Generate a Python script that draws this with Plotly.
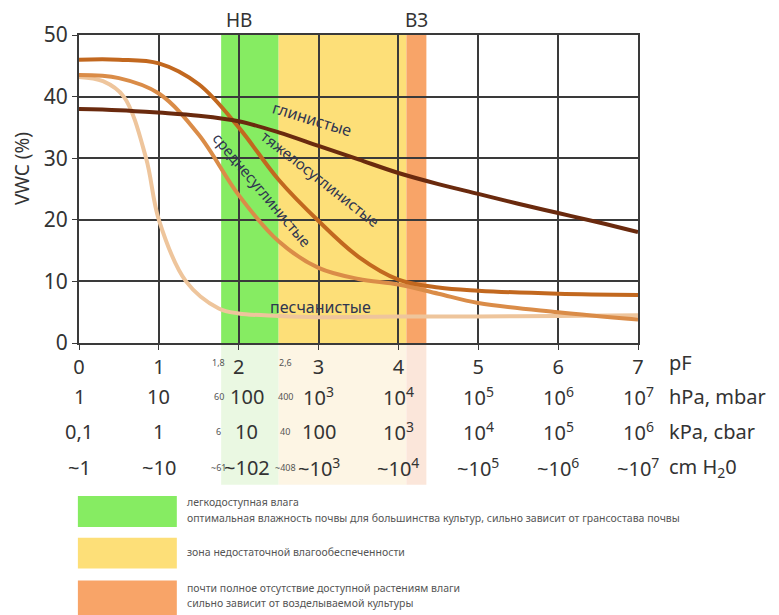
import plotly.graph_objects as go

# ---- data ----
clay_x = [0, 0.5, 1, 1.5, 2, 2.5, 3, 3.5, 4, 4.5, 5, 5.5, 6, 6.5, 7]
clay_y = [38, 37.8, 37.4, 36.9, 36, 34.2, 32, 29.8, 27.6, 25.8, 24.2, 22.6, 21.1, 19.6, 18]

heavy_x = [0, 0.5, 1, 1.5, 2, 2.5, 3, 3.5, 4, 4.5, 5, 6, 7]
heavy_y = [46, 46, 45.4, 42, 35, 26.5, 19.8, 14, 10.3, 9, 8.5, 8, 7.8]

medium_x = [0, 0.5, 1, 1.5, 2, 2.5, 3, 3.5, 4, 4.5, 5, 6, 7]
medium_y = [43.5, 43, 40.5, 33.8, 24, 16.5, 12.2, 10.4, 9.5, 8, 6.5, 5, 3.8]

sand_x = [0, 0.3, 0.56, 0.84, 1, 1.34, 1.75, 2, 2.5, 3, 4, 5, 6, 7]
sand_y = [43.2, 42.5, 40, 30, 20, 10, 5.6, 4.8, 4.4, 4.2, 4.3, 4.3, 4.4, 4.5]

pf_ticks = [0, 1, 2, 3, 4, 5, 6, 7]
hpa_labels = ["1", "10", "100", "10<sup>3</sup>", "10<sup>4</sup>", "10<sup>5</sup>", "10<sup>6</sup>", "10<sup>7</sup>"]
kpa_labels = ["0,1", "1", "10", "100", "10<sup>3</sup>", "10<sup>4</sup>", "10<sup>5</sup>", "10<sup>6</sup>"]
cm_labels = ["~1", "~10", "~102", "~10<sup>3</sup>", "~10<sup>4</sup>", "~10<sup>5</sup>", "~10<sup>6</sup>", "~10<sup>7</sup>"]
row_units = ["pF", "hPa, mbar", "kPa, cbar", "cm H<sub>2</sub>0"]
small_left = ["1,8", "60", "6", "~61"]
small_right = ["2,6", "400", "40", "~408"]

green_band = (1.78, 2.5)
yellow_band = (2.5, 4.1)
orange_band = (4.1, 4.35)

legend_texts = [
    ["легкодоступная влага",
     "оптимальная влажность почвы для большинства культур, сильно зависит от грансостава почвы"],
    ["зона недостаточной влагообеспеченности"],
    ["почти полное отсутствие доступной растениям влаги",
     "сильно зависит от возделываемой культуры"],
]

FONT = "Noto Sans"
TXT = "#333333"
GREEN, YELLOW, ORANGE = "#86EC62", "#FDDF78", "#F8A468"
GREEN_L, YELLOW_L, ORANGE_L = "#EAF8E2", "#FDF5E4", "#FBE6DA"

fig = go.Figure()

for xs, ys, col, w in [
    (sand_x, sand_y, "#EEC59C", 4),
    (medium_x, medium_y, "#DA8C48", 4),
    (heavy_x, heavy_y, "#C2681F", 4),
    (clay_x, clay_y, "#6A2A0E", 4),
]:
    fig.add_trace(go.Scatter(x=xs, y=ys, mode="lines",
                             line=dict(color=col, width=w, shape="spline", smoothing=1.0),
                             hoverinfo="skip", showlegend=False))

shapes = []
for (a, b), c, cl in [(green_band, GREEN, GREEN_L), (yellow_band, YELLOW, YELLOW_L), (orange_band, ORANGE, ORANGE_L)]:
    shapes.append(dict(type="rect", xref="x", yref="y", x0=a, x1=b, y0=0, y1=50,
                       fillcolor=c, line_width=0, layer="below"))
    shapes.append(dict(type="rect", xref="x", yref="paper", x0=a, x1=b, y0=-0.46, y1=-0.005,
                       fillcolor=cl, line_width=0, layer="below"))

# legend swatches
for (y0, y1), c in [((-0.497, -0.597), GREEN), ((-0.632, -0.732), YELLOW), ((-0.771, -0.90), ORANGE)]:
    shapes.append(dict(type="rect", xref="paper", yref="paper", x0=-0.002, x1=0.175, y0=y0, y1=y1,
                       fillcolor=c, line_width=0, layer="above"))

ann = []
# top labels
for t, x in [("НВ", 2), ("ВЗ", 4.22)]:
    ann.append(dict(x=x, y=1.0, xref="x", yref="paper", text=t, showarrow=False,
                    xanchor="center", yanchor="bottom", yshift=0,
                    font=dict(size=19, color=TXT, family=FONT)))

# y-axis title
ann.append(dict(x=-0.102, y=0.568, xref="paper", yref="paper", text="VWC (%)", showarrow=False,
                textangle=-90, xanchor="center", yanchor="middle",
                font=dict(size=19, color=TXT, family=FONT)))

# curve labels
LBL = "#2F3550"
for t, x, y, ang, sz in [("глинистые", 2.92, 36.3, 17, 16), ("тяжелосуглинистые", 3.03, 26.6, 38, 15),
                         ("среднесуглинистые", 2.3, 24.9, 50, 15), ("песчанистые", 3.03, 5.8, 0, 16)]:
    ann.append(dict(x=x, y=y, xref="x", yref="y", text=t, showarrow=False, textangle=ang,
                    xanchor="center", yanchor="middle",
                    font=dict(size=sz, color=LBL, family=FONT)))

# rows below axis
row_y = [-0.0645, -0.174, -0.287, -0.403]
for r, labels in zip(row_y[1:], [hpa_labels, kpa_labels, cm_labels]):
    for i, lab in enumerate(labels):
        xx = i + (0.1 if i == 2 else 0)
        ann.append(dict(x=xx, y=r, xref="x", yref="paper", text=lab, showarrow=False,
                        xanchor="center", yanchor="middle",
                        font=dict(size=20, color=TXT, family=FONT)))
for r, u in zip(row_y, row_units):
    ann.append(dict(x=1.052, y=r, xref="paper", yref="paper", text=u, showarrow=False,
                    xanchor="left", yanchor="middle",
                    font=dict(size=20, color=TXT, family=FONT)))
for r, sl, sr in zip(row_y, small_left, small_right):
    ann.append(dict(x=1.75, y=r, xref="x", yref="paper", text=sl, showarrow=False,
                    xanchor="center", yanchor="middle",
                    font=dict(size=9, color="#555555", family=FONT)))
    ann.append(dict(x=2.58, y=r, xref="x", yref="paper", text=sr, showarrow=False,
                    xanchor="center", yanchor="middle",
                    font=dict(size=9, color="#555555", family=FONT)))

# legend texts
for lines, ys in zip(legend_texts, [[-0.516, -0.568], [-0.677], [-0.797, -0.845]]):
    for t, yy in zip(lines, ys):
        ann.append(dict(x=0.19, y=yy, xref="paper", yref="paper", text=t, showarrow=False,
                        xanchor="left", yanchor="middle",
                        font=dict(size=10.5, color="#555555", family=FONT)))

fig.update_layout(
    width=771, height=607,
    margin=dict(l=71, r=141, t=25, b=272),
    paper_bgcolor="white", plot_bgcolor="white",
    shapes=shapes, annotations=ann,
    font=dict(family=FONT, color=TXT),
    xaxis=dict(range=[0, 7], tickvals=pf_ticks, showgrid=True, gridcolor="#3a3a3a", gridwidth=1.5,
               showline=True, linecolor="#3a3a3a", linewidth=2, mirror=True, zeroline=False,
               ticks="outside", ticklen=5, tickcolor="#3a3a3a",
               tickfont=dict(size=20, color=TXT, family=FONT)),
    yaxis=dict(range=[0, 50], dtick=10, showgrid=True, gridcolor="#3a3a3a", gridwidth=1.5,
               showline=True, linecolor="#3a3a3a", linewidth=2, mirror=True, zeroline=False,
               ticks="outside", ticklen=5, tickcolor="#3a3a3a",
               tickfont=dict(size=21, color=TXT, family=FONT)),
)

fig.write_html("out.html")
